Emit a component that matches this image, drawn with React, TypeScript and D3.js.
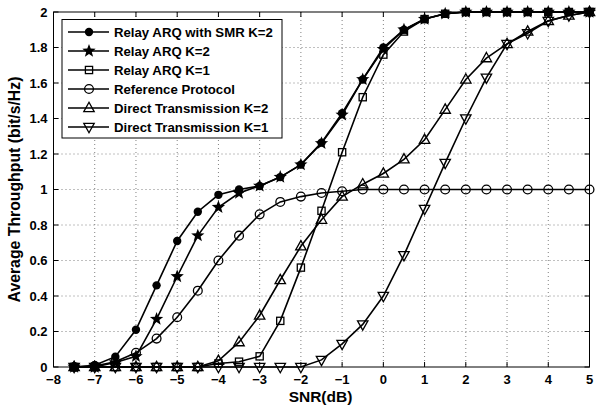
import React from "react";
import * as d3 from "d3";

const snr = [-7.5, -7, -6.5, -6, -5.5, -5, -4.5, -4, -3.5, -3, -2.5, -2, -1.5, -1, -0.5, 0, 0.5, 1, 1.5, 2, 2.5, 3, 3.5, 4, 4.5, 5];

const relaySMR = [0, 0.01, 0.058, 0.21, 0.46, 0.71, 0.875, 0.97, 1.0, 1.02, 1.07, 1.14, 1.264, 1.43, 1.62, 1.8, 1.9, 1.96, 1.99, 2.0, 2.0, 2.0, 2.0, 2.0, 2.0, 2.0];
const relayK2 = [0, 0, 0.025, 0.06, 0.27, 0.51, 0.74, 0.9, 0.98, 1.02, 1.07, 1.14, 1.26, 1.42, 1.62, 1.79, 1.9, 1.96, 1.99, 2.0, 2.0, 2.0, 2.0, 2.0, 2.0, 2.0];
const relayK1 = [0, 0, 0, 0, 0, 0, 0, 0.02, 0.03, 0.06, 0.26, 0.56, 0.88, 1.21, 1.52, 1.76, 1.89, 1.96, 1.99, 2.0, 2.0, 2.0, 2.0, 2.0, 2.0, 2.0];
const reference = [0, 0.005, 0.03, 0.08, 0.16, 0.28, 0.43, 0.6, 0.74, 0.86, 0.93, 0.96, 0.98, 0.99, 1.0, 1.0, 1.0, 1.0, 1.0, 1.0, 1.0, 1.0, 1.0, 1.0, 1.0, 1.0];
const directK2 = [0, 0, 0, 0, 0, 0, 0, 0.035, 0.14, 0.29, 0.49, 0.68, 0.83, 0.96, 1.03, 1.09, 1.17, 1.28, 1.45, 1.62, 1.74, 1.82, 1.89, 1.95, 1.98, 2.0];
const directK1 = [0, 0, 0, 0, 0, 0, 0, 0, 0, 0, 0, 0, 0.04, 0.13, 0.24, 0.4, 0.63, 0.89, 1.15, 1.4, 1.63, 1.82, 1.88, 1.95, 1.98, 2.0];

const seriesNames = [
  "Relay ARQ with SMR K=2",
  "Relay ARQ K=2",
  "Relay ARQ K=1",
  "Reference Protocol",
  "Direct Transmission K=2",
  "Direct Transmission K=1",
];
const seriesValues = [relaySMR, relayK2, relayK1, reference, directK2, directK1];
const seriesMarkers = ["dot", "star", "square", "circle", "triUp", "triDown"];

const xTicks = [-8, -7, -6, -5, -4, -3, -2, -1, 0, 1, 2, 3, 4, 5];
const yTicks = [0, 0.2, 0.4, 0.6, 0.8, 1, 1.2, 1.4, 1.6, 1.8, 2];

const W = 596;
const H = 406;
const left = 53.5;
const right = 589.5;
const top = 12;
const bottom = 367;
const FONT = "Liberation Sans, Arial, Helvetica, sans-serif";

const x = d3.scaleLinear().domain([-8, 5]).range([left, right]);
const y = d3.scaleLinear().domain([0, 2]).range([bottom, top]);

function starPath(cx: number, cy: number, R: number): string {
  const r = R * 0.42;
  const pts: string[] = [];
  for (let i = 0; i < 10; i++) {
    const a = -Math.PI / 2 + (i * Math.PI) / 5;
    const rad = i % 2 === 0 ? R : r;
    pts.push(`${cx + rad * Math.cos(a)},${cy + rad * Math.sin(a)}`);
  }
  return "M" + pts.join("L") + "Z";
}

function Marker({ kind, cx, cy }: { kind: string; cx: number; cy: number }) {
  const sw = 1.3;
  switch (kind) {
    case "dot":
      return <circle cx={cx} cy={cy} r={4.2} fill="#000" />;
    case "star":
      return <path d={starPath(cx, cy, 7)} fill="#000" />;
    case "square":
      return <rect x={cx - 3.6} y={cy - 3.6} width={7.2} height={7.2} fill="none" stroke="#000" strokeWidth={sw} />;
    case "circle":
      return <circle cx={cx} cy={cy} r={4.4} fill="none" stroke="#000" strokeWidth={sw} />;
    case "triUp":
      return (
        <path d={`M${cx},${cy - 5.7}L${cx + 5.2},${cy + 3.6}L${cx - 5.2},${cy + 3.6}Z`} fill="none" stroke="#000" strokeWidth={sw} />
      );
    case "triDown":
      return (
        <path d={`M${cx},${cy + 5.7}L${cx + 5.2},${cy - 3.6}L${cx - 5.2},${cy - 3.6}Z`} fill="none" stroke="#000" strokeWidth={sw} />
      );
    default:
      return null;
  }
}

export default function App() {
  const line = d3
    .line<number>()
    .x((_, i) => x(snr[i]))
    .y((d) => y(d));

  const legX = 62;
  const legY = 19.5;
  const legW = 220;
  const legH = 118.5;
  const rowY = (i: number) => 32 + i * 19;

  return (
    <svg width={W} height={H} style={{ position: "absolute", left: 0, top: 0 }} fontFamily={FONT}>
      <rect x={0} y={0} width={W} height={H} fill="#fff" />
      {/* grid */}
      {xTicks.slice(1, -1).map((t) => (
        <line key={"gx" + t} x1={x(t)} x2={x(t)} y1={top} y2={bottom} stroke="#808080" strokeWidth={1} strokeDasharray="1,3" />
      ))}
      {yTicks.slice(1, -1).map((t) => (
        <line key={"gy" + t} x1={left} x2={right} y1={y(t)} y2={y(t)} stroke="#808080" strokeWidth={1} strokeDasharray="1,3" />
      ))}
      {/* ticks inward */}
      {xTicks.map((t) => (
        <g key={"tx" + t}>
          <line x1={x(t)} x2={x(t)} y1={bottom} y2={bottom - 5} stroke="#000" />
          <line x1={x(t)} x2={x(t)} y1={top} y2={top + 5} stroke="#000" />
          <text x={x(t)} y={bottom + 16.5} textAnchor="middle" fontSize={13} fontWeight="bold">
            {t < 0 ? "\u2212" + Math.abs(t) : String(t)}
          </text>
        </g>
      ))}
      {yTicks.map((t) => (
        <g key={"ty" + t}>
          <line x1={left} x2={left + 5} y1={y(t)} y2={y(t)} stroke="#000" />
          <line x1={right} x2={right - 5} y1={y(t)} y2={y(t)} stroke="#000" />
          <text x={left - 6} y={y(t) + 4.6} textAnchor="end" fontSize={13} fontWeight="bold">
            {String(t)}
          </text>
        </g>
      ))}
      <rect x={left} y={top} width={right - left} height={bottom - top} fill="none" stroke="#000" strokeWidth={1} />
      {/* series */}
      {seriesValues.map((vals, si) => (
        <g key={"s" + si}>
          <path d={line(vals) || ""} fill="none" stroke="#000" strokeWidth={1.6} />
          {vals.map((v, i) => (
            <Marker key={i} kind={seriesMarkers[si]} cx={x(snr[i])} cy={y(v)} />
          ))}
        </g>
      ))}
      {/* legend */}
      <rect x={legX} y={legY} width={legW} height={legH} fill="#fff" stroke="#000" strokeWidth={1} />
      {seriesNames.map((name, i) => (
        <g key={"l" + i}>
          <line x1={68} x2={109} y1={rowY(i)} y2={rowY(i)} stroke="#000" strokeWidth={1.6} />
          <Marker kind={seriesMarkers[i]} cx={89} cy={rowY(i)} />
          <text x={114} y={rowY(i) + 4.8} fontSize={13.2} fontWeight="bold">
            {name}
          </text>
        </g>
      ))}
      {/* axis titles */}
      <text x={320.5} y={401.5} textAnchor="middle" fontSize={15.5} fontWeight="bold">
        SNR(dB)
      </text>
      <text
        transform={`translate(20, 189.5) rotate(-90)`}
        textAnchor="middle"
        fontSize={15.8}
        fontWeight="bold"
      >
        Average Throughput (bit/s/Hz)
      </text>
    </svg>
  );
}
